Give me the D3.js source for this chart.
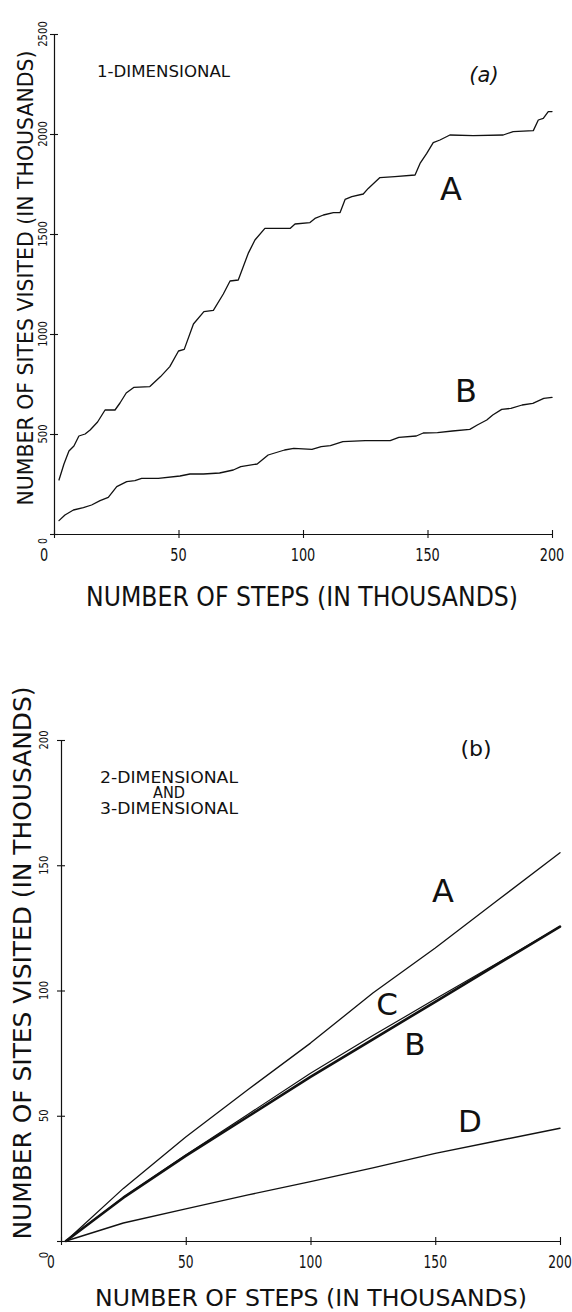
<!DOCTYPE html>
<html><head><meta charset="utf-8">
<script src="https://cdn.jsdelivr.net/npm/d3@7"></script>
<style>html,body{margin:0;padding:0;background:#fff}svg{display:block}</style>
</head><body>
<script>
// ---------- DATA ----------
// Panel (a): 1-dimensional
const stepsA1 = [2,4,6,8,10,12.5,14.5,17.5,20.5,24.5,26.5,29,32,38.5,42.8,46.5,50,52.3,56,60.2,64,68,70.7,74,78,80.7,84.7,94.8,96.8,102.8,104.8,108.2,112.2,114.9,116.9,119.6,124.2,126.2,130.9,136.9,145,147,149.7,152.3,155,159,168.4,180.4,184.4,192.5,194.5,196.5,198.5,200];
const sitesA1 = [270,350,415,440,490,500,520,560,620,620,655,705,733,737,787,837,915,923,1050,1112,1118,1200,1265,1270,1403,1470,1528,1528,1550,1557,1578,1595,1607,1607,1673,1687,1700,1728,1782,1787,1795,1853,1903,1957,1970,1995,1992,1995,2012,2017,2070,2078,2112,2112];
const stepsB1 = [2,4.4,7.8,11.8,15.1,18.5,21.8,25.2,29.2,32.5,35.2,41.9,50.6,54.6,60,66.5,72,75,81.6,86,92.6,96.3,103.6,107.3,111,116,125,135,138.5,145.5,148.3,154,160,167,170,173.8,176.2,179.8,183.5,188,192.3,196.7,200];
const sitesB1 = [67,95,120,132,145,167,183,237,262,267,278,278,290,300,300,305,320,337,350,395,420,428,423,437,442,462,467,467,483,490,505,507,515,523,545,570,595,623,628,645,653,678,683];
const xTicksA = [0,50,100,150,200];
const yTicksA = [0,500,1000,1500,2000,2500];

// Panel (b): 2- and 3-dimensional
const stepsB = [2,25,50,75,100,125,150,175,200];
const curveA2 = [0,21,41.5,60.5,79,99,117,136,155];
const curveB2 = [0,17.3,34,49.7,65.5,80.5,95.5,110.5,125.5];
const curveC2 = [0,17.5,34.3,50.6,67,82,96.6,111,125.5];
const curveD2 = [0,7.2,12.8,18.4,23.7,29.2,35,40,45];
const xTicksB = [0,50,100,150,200];
const yTicksB = [0,50,100,150,200];

const xTitle = "NUMBER OF STEPS (IN THOUSANDS)";
const yTitle = "NUMBER OF SITES VISITED (IN THOUSANDS)";

// ---------- DRAW ----------
const svg = d3.select("body").append("svg").attr("width",572).attr("height",1312);
svg.append("rect").attr("width",572).attr("height",1312).attr("fill","#fff");
const INK = "#111";
const FONT = "'DejaVu Sans', sans-serif";

function txt(t, x, y, size, len, opts={}) {
  const e = svg.append("text").attr("x",x).attr("y",y).text(t)
    .attr("font-family", opts.family || FONT).attr("font-size", size)
    .attr("fill", INK).attr("text-anchor", opts.anchor || "middle");
  if (len) e.attr("textLength", len).attr("lengthAdjust","spacingAndGlyphs");
  if (opts.rotate) e.attr("transform", `rotate(-90,${x},${y})`);
  if (opts.style) e.attr("font-style", opts.style);
  return e;
}

function axes(x, y, xt, yt) {
  const y0 = y.range()[0], x0 = x.range()[0];
  const styleAxis = g => { g.selectAll("path,line").attr("stroke",INK).attr("stroke-width",1.1); g.selectAll("text").remove(); };
  svg.append("g").attr("transform",`translate(0,${y0})`).call(d3.axisBottom(x).tickValues(xt).tickSize(4).tickSizeOuter(0)).call(styleAxis);
  svg.append("g").attr("transform",`translate(0,${y0})`).call(d3.axisTop(x).tickValues(xt).tickSize(4).tickSizeOuter(0)).call(styleAxis);
  svg.append("g").attr("transform",`translate(${x0},0)`).call(d3.axisLeft(y).tickValues(yt).tickSize(4).tickSizeOuter(0)).call(styleAxis);
  svg.append("g").attr("transform",`translate(${x0},0)`).call(d3.axisRight(y).tickValues(yt).tickSize(4).tickSizeOuter(0)).call(styleAxis);
}

function curve(x, y, xs, ys, w) {
  const line = d3.line().x((d,i)=>x(xs[i])).y(d=>y(d)).curve(d3.curveLinear);
  svg.append("path").attr("d", line(ys)).attr("fill","none").attr("stroke",INK)
    .attr("stroke-width", w).attr("stroke-linejoin","round").attr("stroke-linecap","round");
}

// ---- Panel (a) ----
const xA = d3.scaleLinear([0,200],[54,552]);
const yA = d3.scaleLinear([0,2500],[534,34]);
axes(xA, yA, xTicksA, yTicksA);
curve(xA, yA, stepsA1, sitesA1, 1.3);
curve(xA, yA, stepsB1, sitesB1, 1.3);
xTicksA.forEach(v => txt(String(v), xA(v) + (v===0?-10:0), 561, 18, String(v).length*8.2));
yTicksA.forEach(v => txt(String(v), 47, yA(v) + (v===0?7:0), 12, String(v).length*(v===0?6:6.4), {rotate:true}));
txt(xTitle, 302, 606, 26, 432);
txt(yTitle, 33, 278, 21, 455, {rotate:true});
txt("1-DIMENSIONAL", 97, 77, 16, 133, {anchor:"start"});
txt("(a)", 484, 82, 21, null, {style:"italic"});
txt("A", 451, 200, 32);
txt("B", 466, 402, 32);

// ---- Panel (b) ----
const xB = d3.scaleLinear([0,200],[61,560]);
const yB = d3.scaleLinear([0,200],[1241,740]);
axes(xB, yB, xTicksB, yTicksB);
curve(xB, yB, stepsB, curveA2, 1.3);
curve(xB, yB, stepsB, curveC2, 1.2);
curve(xB, yB, stepsB, curveB2, 2.6);
curve(xB, yB, stepsB, curveD2, 1.4);
xTicksB.forEach(v => txt(String(v), xB(v) + (v===0?-10:0), 1268, 17, String(v).length*7.8));
yTicksB.forEach(v => txt(String(v), 48, yB(v) + (v===0?14:0), 12, String(v).length*6.3, {rotate:true}));
txt(xTitle, 311, 1306, 23, 432);
txt(yTitle, 31, 963, 25, 553, {rotate:true});
// multi-line annotation as one text element
const ann = svg.append("text").attr("font-family",FONT).attr("font-size",15).attr("fill",INK).attr("text-anchor","middle");
[["2-DIMENSIONAL",783,138],["AND",798,32],["3-DIMENSIONAL",814,138]].forEach(([s,y,l]) =>
  ann.append("tspan").attr("x",169).attr("y",y).attr("textLength",l).attr("lengthAdjust","spacingAndGlyphs").text(s));
txt("(b)", 476, 756, 22);
txt("A", 443, 902, 32);
txt("C", 387, 1015, 31);
txt("B", 415, 1055, 31);
txt("D", 470, 1132, 31);
</script>
</body></html>
